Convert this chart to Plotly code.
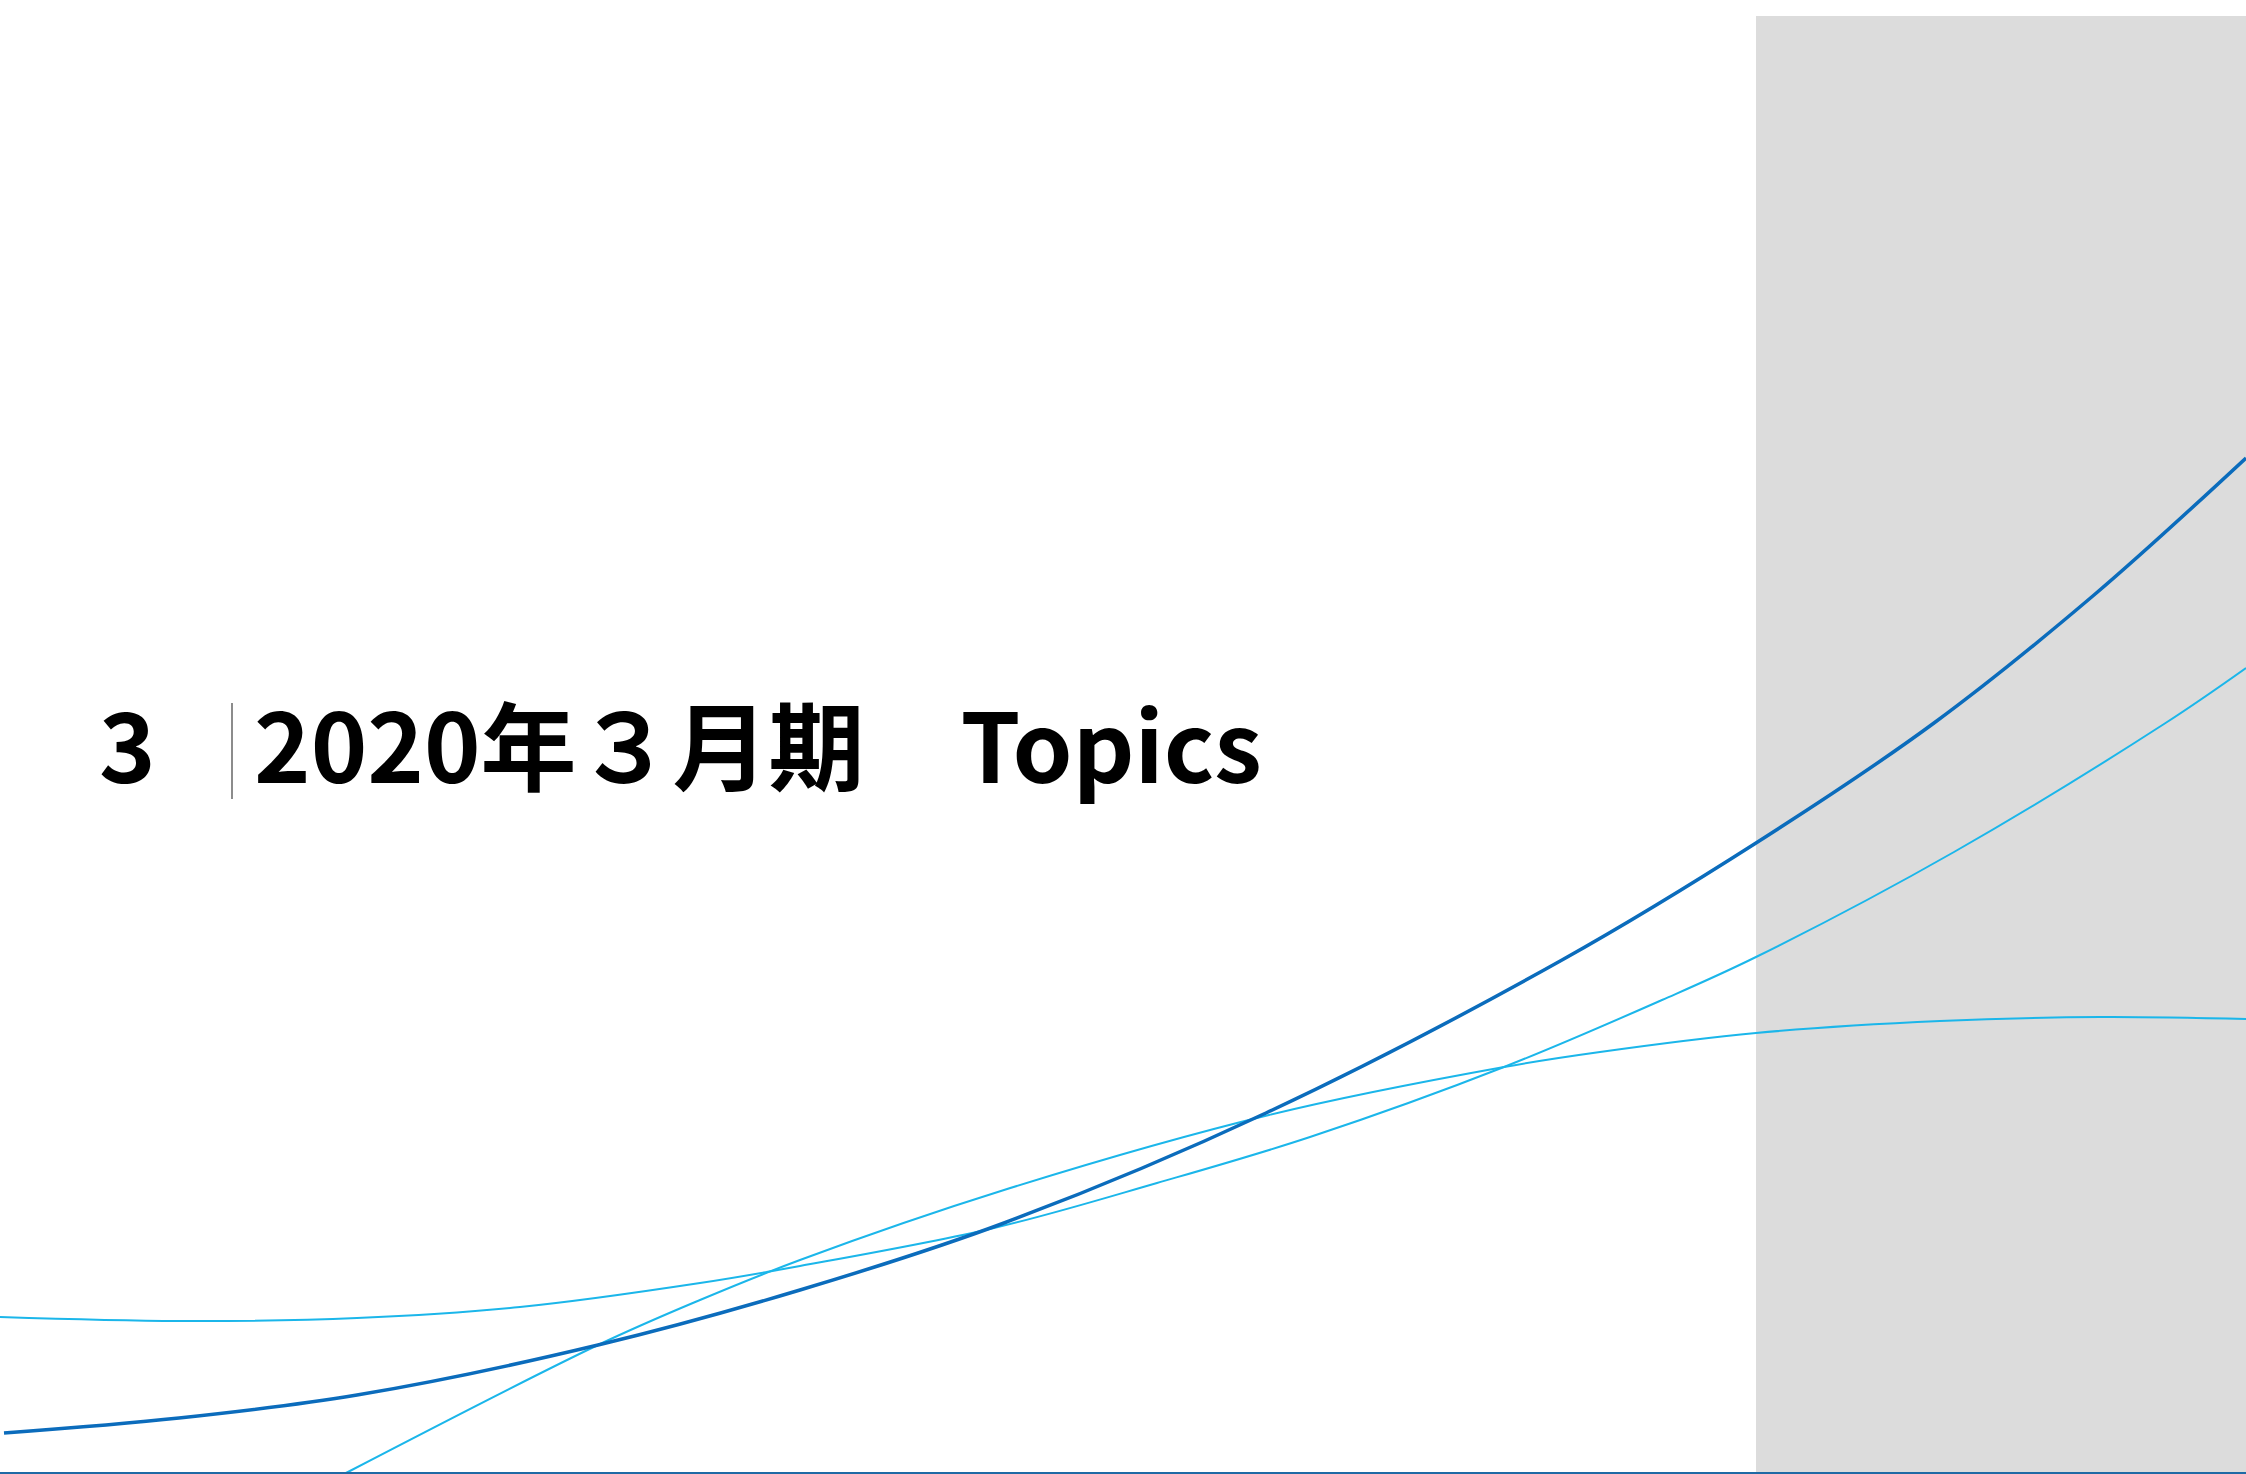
import plotly.graph_objects as go

# ---- data (pixel space of a 2246 x 1474 slide) ----
section_number = "3"
title_text = "2020年３月期　Topics"

dark_x = [4, 179, 357, 598, 800, 1004, 1266, 1562, 1756, 1934, 2094, 2246]
dark_y = [1433, 1418, 1395, 1345, 1290, 1223, 1113, 960, 843, 723, 595, 458]

rise_x = [0, 179, 357, 520, 700, 800, 994, 1157, 1310, 1504, 1662, 1756, 1954, 2164, 2246]
rise_y = [1317, 1321, 1318, 1307, 1283, 1266, 1228, 1183, 1137, 1067, 1000, 957, 852, 724, 668]

arc_x = [346, 598, 700, 800, 1004, 1269, 1504, 1600, 1756, 1940, 2101, 2246]
arc_y = [1473, 1345, 1300, 1260, 1190, 1115, 1067, 1052, 1033, 1021, 1017, 1019]

W, H = 2246, 1474
DARK = "#0b6cbc"
LIGHT = "#1bb6ea"

fig = go.Figure()

fig.add_trace(go.Scatter(x=rise_x, y=rise_y, mode="lines", line=dict(color=LIGHT, width=2, shape="spline", smoothing=1.0), hoverinfo="skip"))
fig.add_trace(go.Scatter(x=arc_x, y=arc_y, mode="lines", line=dict(color=LIGHT, width=2, shape="spline", smoothing=1.0), hoverinfo="skip"))
fig.add_trace(go.Scatter(x=dark_x, y=dark_y, mode="lines", line=dict(color=DARK, width=3.5, shape="spline", smoothing=1.0), hoverinfo="skip"))

shapes = [
    dict(type="rect", xref="x", yref="y", x0=1756, x1=W, y0=16, y1=H, fillcolor="#dcdcdc", line=dict(width=0), layer="below"),
    dict(type="line", xref="x", yref="y", x0=0, x1=W, y0=1473, y1=1473, line=dict(color="#1f6aa5", width=2)),
    dict(type="line", xref="x", yref="y", x0=232, x1=232, y0=703, y1=799, line=dict(color="#8c8c8c", width=2)),
]

font = dict(family="Noto Sans CJK JP", size=96, color="#000000", weight="bold")
annotations = [
    dict(x=97, y=741, xref="x", yref="y", text=section_number, showarrow=False, xanchor="left", yanchor="middle", font=font),
    dict(x=252, y=741, xref="x", yref="y", text=title_text, showarrow=False, xanchor="left", yanchor="middle", font=font),
]

fig.update_layout(
    width=W, height=H,
    margin=dict(l=0, r=0, t=0, b=0),
    paper_bgcolor="white", plot_bgcolor="white",
    showlegend=False,
    xaxis=dict(range=[0, W], visible=False, fixedrange=True),
    yaxis=dict(range=[H, 0], visible=False, fixedrange=True),
    shapes=shapes, annotations=annotations,
)

fig.write_html("out.html", config={"displayModeBar": False},
               post_script="document.body.style.margin='0';document.body.style.overflow='hidden';")
